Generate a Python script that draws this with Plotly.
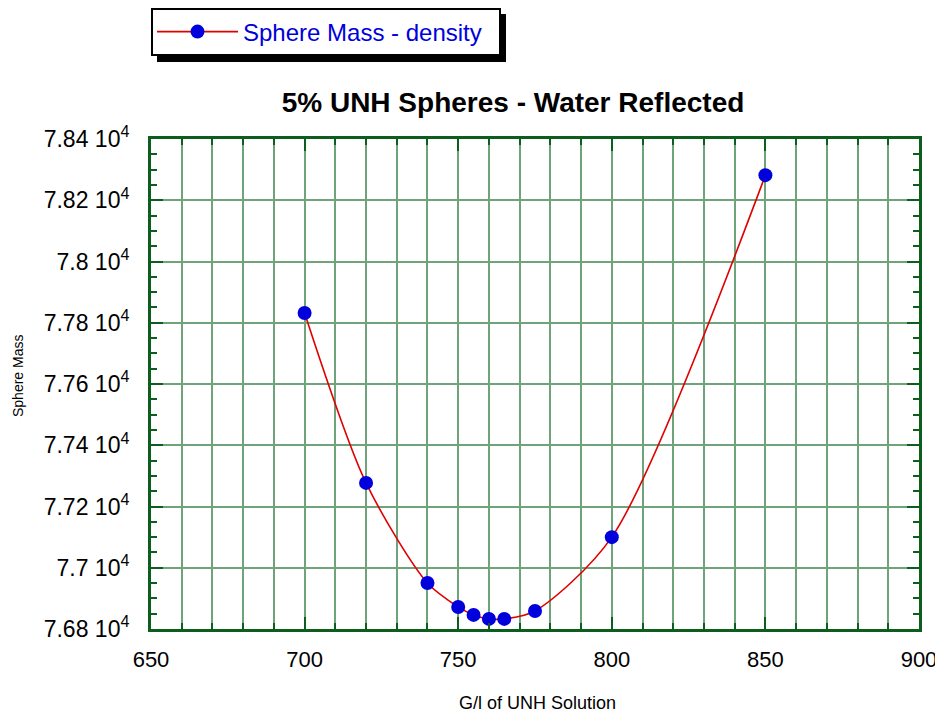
import plotly.graph_objects as go

# Data
concentration = [700, 720, 740, 750, 755, 760, 765, 775, 800, 850]
sphere_mass = [77832, 77277, 76950, 76872, 76846, 76833, 76833, 76859, 77100, 78282]

y_tick_vals = [76800, 77000, 77200, 77400, 77600, 77800, 78000, 78200, 78400]
y_tick_text = ["7.68 10<sup>4</sup>", "7.7 10<sup>4</sup>", "7.72 10<sup>4</sup>", "7.74 10<sup>4</sup>",
               "7.76 10<sup>4</sup>", "7.78 10<sup>4</sup>", "7.8 10<sup>4</sup>", "7.82 10<sup>4</sup>",
               "7.84 10<sup>4</sup>"]

FONT = "Arial, Liberation Sans, sans-serif"
AXIS = "#0b5e1c"
GRID = "#6fa37a"

fig = go.Figure()
fig.add_trace(go.Scatter(
    x=concentration, y=sphere_mass, mode="lines+markers",
    name="Sphere Mass - density",
    line=dict(color="#e00000", width=1.6, shape="spline", smoothing=0.8),
    marker=dict(color="#0000dd", size=14, line=dict(width=0)),
))

# page body margin offsets the figure by 8px; work in screen pixels of the reference
OFF = 8
W, H = 943 - OFF, 715 - OFF
PL, PR, PT, PB = 151, 919, 139, 629          # plot area in screen pixels
L, R, T, B = PL - OFF, W - (PR - OFF), PT - OFF, H - (PB - OFF)
pw, ph = W - L - R, H - T - B

def px_x(xp):
    return (xp - OFF - L) / pw

def px_y(yp):
    return (H - B - (yp - OFF)) / ph

# legend frame with drop shadow
fig.add_shape(type="rect", xref="paper", yref="paper", x0=px_x(157), x1=px_x(506),
              y0=px_y(62), y1=px_y(14), fillcolor="black", line=dict(width=0), layer="above")
fig.add_shape(type="rect", xref="paper", yref="paper", x0=px_x(152), x1=px_x(500),
              y0=px_y(55), y1=px_y(9), fillcolor="white", line=dict(color="black", width=2),
              layer="above")

# axis titles
fig.add_annotation(text="Sphere Mass", xref="paper", yref="paper", x=px_x(18), y=px_y(376),
                   xanchor="center", yanchor="middle", textangle=-90, showarrow=False,
                   font=dict(size=14, family=FONT, color="black"))
fig.add_annotation(text="G/l of UNH Solution", xref="paper", yref="paper", x=px_x(537), y=px_y(703),
                   xanchor="center", yanchor="middle", showarrow=False,
                   font=dict(size=18, family=FONT, color="black"))

fig.update_layout(
    width=W, height=H,
    margin=dict(l=L, r=R, t=T, b=B, autoexpand=False),
    paper_bgcolor="white", plot_bgcolor="white",
    font=dict(family=FONT, color="black"),
    showlegend=True,
    legend=dict(x=px_x(152), y=px_y(32), xanchor="left", yanchor="middle",
                bgcolor="rgba(0,0,0,0)", borderwidth=0, itemwidth=81,
                font=dict(size=24, color="#0000dd", family=FONT)),
    title=dict(text="<b>5% UNH Spheres - Water Reflected</b>", x=(513 - OFF) / W, xanchor="center",
               xref="container", yref="container",
               y=1 - (102 - OFF) / H, yanchor="middle", font=dict(size=28, family=FONT, color="black")),
    xaxis=dict(
        range=[650, 900], tickmode="linear", tick0=650, dtick=50, automargin=False,
        showgrid=True, gridcolor=GRID, gridwidth=2,
        ticks="inside", ticklen=12, tickwidth=2, tickcolor=AXIS,
        minor=dict(dtick=10, showgrid=True, gridcolor=GRID, gridwidth=2, ticks="inside",
                   ticklen=6, tickwidth=2, tickcolor=AXIS),
        showline=True, linecolor=AXIS, linewidth=3, mirror="allticks",
        tickfont=dict(size=22, family=FONT), zeroline=False, ticklabelstandoff=9,
    ),
    yaxis=dict(
        range=[76800, 78400], tickvals=y_tick_vals, ticktext=y_tick_text, automargin=False,
        showgrid=True, gridcolor=GRID, gridwidth=2,
        ticks="inside", ticklen=12, tickwidth=2, tickcolor=AXIS,
        minor=dict(dtick=50, tick0=76800, showgrid=False, ticks="inside",
                   ticklen=6, tickwidth=2, tickcolor=AXIS),
        showline=True, linecolor=AXIS, linewidth=3, mirror="allticks",
        tickfont=dict(size=23, family=FONT), zeroline=False, ticklabelstandoff=14,
    ),
)

fig.write_html("out.html")
